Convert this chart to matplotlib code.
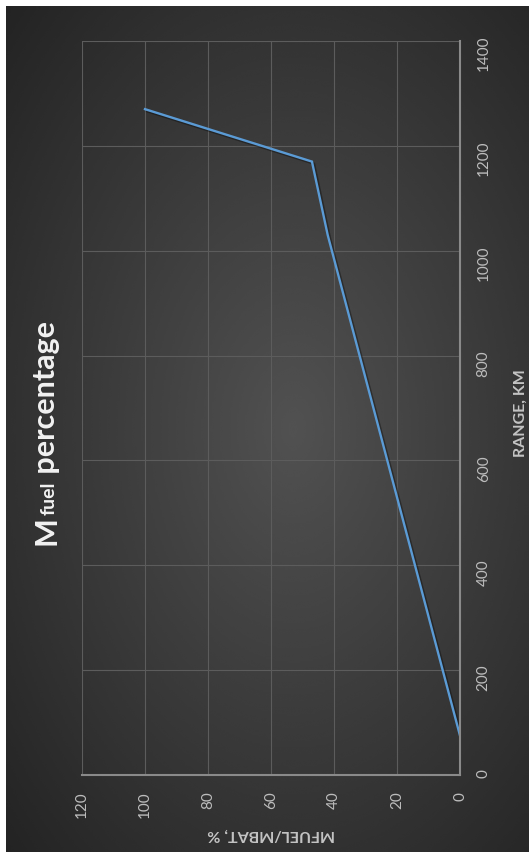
import numpy as np
import matplotlib.pyplot as plt
from matplotlib import patheffects as pe

# fuel mass share vs. range
range_km = [75, 1030, 1170, 1270]
fuel_pct = [0, 42, 47, 100]
pct_ticks = [0, 20, 40, 60, 80, 100, 120]
range_ticks = [0, 200, 400, 600, 800, 1000, 1200, 1400]

W, H = 529, 852
FONT = "Lato"
fig = plt.figure(figsize=(W / 100, H / 100), dpi=100, facecolor="white")

# dark backdrop, lighter in the middle
bg = fig.add_axes([6 / W, 0, 1 - 6 / W, 1 - 6 / H])
yy, xx = np.mgrid[0:1:400j, 0:1:250j]
r = np.sqrt(((xx - 0.55) / 0.85) ** 2 + ((yy - 0.5) / 0.8) ** 2)
shade = np.clip(0.32 - 0.2 * r, 0.14, None)
bg.imshow(shade, cmap="gray", vmin=0, vmax=1, aspect="auto",
          extent=(0, 1, 0, 1), interpolation="bicubic")
bg.set_axis_off()

# the chart is laid out turned on its side: range runs upward
ax = fig.add_axes([82 / W, 77 / H, 378 / W, 734 / H])
ax.set_facecolor("none")
ax.plot(fuel_pct, range_km, color="#5b9bd5", lw=1.7,
        solid_joinstyle="miter",
        path_effects=[pe.SimpleLineShadow(offset=(1.5, -1.5), alpha=0.35,
                                          shadow_color="black"),
                      pe.Normal()])
ax.set_xlim(120, 0)
ax.set_ylim(0, 1400)
ax.set_xticks(pct_ticks)
ax.set_yticks(range_ticks)
ax.yaxis.tick_right()
ax.grid(True, color="#5c5c5c", lw=0.8)
ax.set_axisbelow(True)
ax.tick_params(length=0, colors="#bdbdbd", labelsize=11)
ax.tick_params(axis="x", labelrotation=90, pad=12)
ax.tick_params(axis="y", labelrotation=90, pad=12)
for lab in ax.get_xticklabels() + ax.get_yticklabels():
    lab.set_fontfamily(FONT)
for side in ("top", "left"):
    ax.spines[side].set_visible(False)
for side in ("right", "bottom"):
    ax.spines[side].set_color("#8a8a8a")
    ax.spines[side].set_linewidth(1.5)

fig.text(521 / W, 1 - 413 / H, "RANGE, KM", rotation=90, ha="center",
         va="center", color="#c4c4c4", fontsize=11.5, fontweight="bold",
         family=FONT)
fig.text(271 / W, 1 - 834 / H, "MFUEL/MBAT, %", rotation=180, ha="center",
         va="center", color="#c4c4c4", fontsize=11.5, fontweight="bold",
         family=FONT)

# title: "M" + small "fuel" + " percentage", reading upward
renderer = fig.canvas.get_renderer()
x0 = 55 / W
y = (H - 545) / H
parts = [("M", 22), ("fuel", 14), (" percentage", 22)]
for txt, size in parts:
    t = fig.text(x0, y, txt, rotation=90, rotation_mode="anchor",
                 ha="left", va="baseline", color="#f2f2f2", fontsize=size,
                 fontweight="bold", family=FONT)
    y += t.get_window_extent(renderer).height / H + 1 / H

fig.savefig("out.png", dpi=100, facecolor=fig.get_facecolor())
